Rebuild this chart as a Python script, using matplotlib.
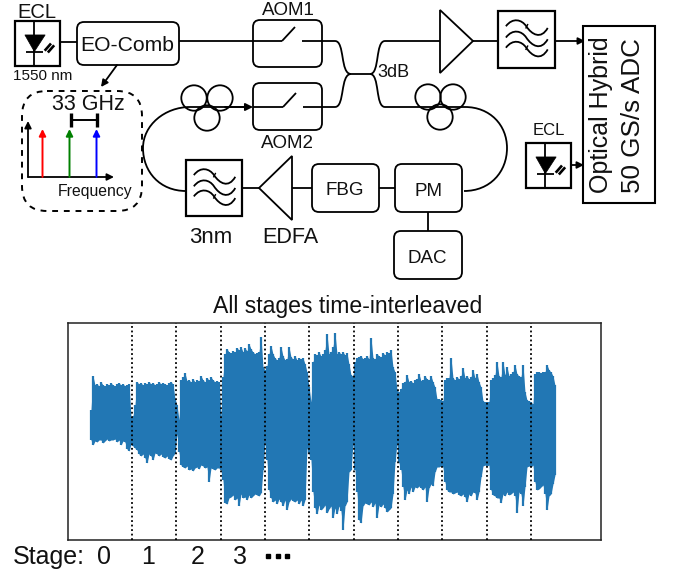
#!/usr/bin/env python3

import numpy as np
import matplotlib
matplotlib.use("Agg")
import matplotlib.pyplot as plt
from matplotlib.patches import FancyBboxPatch, Rectangle, Polygon, Circle
from matplotlib.path import Path
from matplotlib.patches import PathPatch

plt.rcParams["font.family"] = ["Liberation Sans", "DejaVu Sans"]

W, H = 675, 573
LW = 1.3
BLUE = "#2277b4"

# envelope of the time-interleaved trace, one sample row per stage and gap
wave_top = [
    22, 56, 47, 48, 46, 50, 47, 46, 48, 47, 49, 47, 46, 48, 49, 47, 48, 46, 47, 48,
    15, 16, 27,
    50, 48, 49, 47, 49, 48, 50, 48, 49, 47, 48, 50, 48, 49, 48, 47, 49, 50, 48,
    33, 27, 12,
    52, 55, 59, 51, 52, 50, 53, 50, 52, 51, 56, 52, 50, 54, 52, 55, 52, 50, 51, 50,
    15, 55, 78,
    83, 80, 79, 81, 80, 84, 82, 85, 80, 84, 81, 88, 83, 80, 78, 79, 80, 95,
    65, 62, 66, 78,
    86, 78, 74, 72, 74, 85, 76, 72, 73, 85, 75, 73, 76, 72, 74, 73, 74, 68,
    60, 45, 30,
    70, 78, 77, 80, 76, 78, 82, 98, 78, 80, 85, 99, 78, 80, 78, 80, 77, 79, 68,
    57, 56, 70,
    74, 75, 76, 73, 74, 76, 73, 94, 74, 73, 78, 76, 75, 79, 77, 80, 79, 82,
    65, 60, 42, 40, 43, 49,
    50, 57, 50, 51, 49, 52, 53, 58, 51, 52, 56, 53, 52, 56, 50, 45,
    33, 33, 32, 31,
    52, 54, 54, 74, 54, 52, 55, 53, 56, 64, 54, 56, 53, 55, 62, 54, 58, 50, 45,
    31, 30, 30, 30,
    52, 54, 57, 70, 56, 55, 70, 57, 65, 56, 58, 60, 67, 58, 56, 55, 67, 40,
    32, 31, 30, 28,
    58, 60, 60, 59, 60, 60, 67, 62, 60, 56, 47,
]
wave_bot = [
    -8, -13, -9, -10, -8, -8, -11, -9, -7, -9, -8, -8, -7, -10, -8, -13, -9, -10, -17, -19,
    -12, -14, -16,
    -18, -22, -24, -22, -26, -31, -22, -24, -28, -21, -22, -24, -22, -25, -26, -24, -27, -28, -24,
    -21, -2, -20,
    -33, -35, -36, -34, -38, -37, -39, -36, -35, -37, -33, -34, -36, -35, -50, -36, -37, -38, -36, -36,
    -38, -48, -71,
    -72, -66, -65, -63, -68, -66, -74, -62, -66, -65, -68, -63, -66, -64, -62, -63, -64, -61,
    -38, -10, -28, -58,
    -66, -70, -68, -72, -67, -70, -74, -68, -78, -70, -67, -69, -70, -68, -72, -68, -74, -68,
    -16, -22, -28,
    -60, -76, -82, -73, -78, -76, -73, -81, -77, -74, -86, -76, -82, -74, -79, -98, -74, -70, -40,
    -38, -11, -38,
    -60, -88, -91, -74, -71, -72, -73, -70, -75, -71, -86, -73, -75, -72, -76, -80, -78, -76,
    -62, -30, -11, -31, -38, -55,
    -68, -58, -62, -55, -60, -55, -56, -54, -56, -58, -55, -70, -56, -52, -54, -40,
    -35, -35, -34, -35,
    -50, -58, -60, -60, -62, -61, -60, -63, -64, -62, -65, -70, -62, -64, -60, -61, -68, -60, -45,
    -34, -33, -34, -33,
    -58, -63, -64, -66, -66, -71, -62, -64, -60, -63, -62, -60, -64, -81, -60, -62, -74, -55,
    -35, -34, -35, -33,
    -50, -58, -57, -55, -53, -62, -78, -64, -62, -52, -43,
]
stage_bounds = [20.5, 42.7, 64.8, 87, 109, 131.5, 153.5, 175.5, 198, 220]
stage_labels = ["0", "1", "2", "3"]
comb_lines = [("red", 42.5), ("green", 69.5), ("blue", 96.5)]


def box(ax, x0, y0, x1, y1, r=7, **kw):
    ax.add_patch(FancyBboxPatch((x0 + r, y0 + r), x1 - x0 - 2 * r, y1 - y0 - 2 * r,
                                boxstyle=f"round,pad={r},rounding_size={r}",
                                fc=kw.pop("fc", "white"), ec="black",
                                lw=kw.pop("lw", LW), zorder=kw.pop("zorder", 3), **kw))


def line(ax, xs, ys, lw=LW, color="black", zorder=4):
    ax.plot(xs, ys, color=color, lw=lw, solid_capstyle="butt", zorder=zorder)


def curve(ax, start, *segs, lw=LW):
    verts = [start]
    codes = [Path.MOVETO]
    for seg in segs:
        verts += list(seg)
        codes += [Path.CURVE4] * 3
    ax.add_patch(PathPatch(Path(verts, codes), fc="none", ec="black", lw=lw, zorder=2))


def arrow(ax, p0, p1, color="black", lw=LW, ms=10):
    ax.annotate("", xy=p1, xytext=p0, zorder=5,
                arrowprops=dict(arrowstyle="-|>", color=color, lw=lw, mutation_scale=ms,
                                shrinkA=0, shrinkB=0))


def laser(ax, x0, y0, s):
    ax.add_patch(Rectangle((x0, y0), s, s, fc="white", ec="black", lw=LW + 0.3, zorder=3))
    mx = x0 + 0.43 * s
    line(ax, [mx, mx], [y0, y0 + s])
    ax.add_patch(Polygon([(x0 + 0.22 * s, y0 + 0.31 * s), (x0 + 0.67 * s, y0 + 0.31 * s),
                          (mx, y0 + 0.68 * s)], fc="black", ec="black", lw=0.5, zorder=4))
    line(ax, [x0 + 0.24 * s, x0 + 0.62 * s], [y0 + 0.68 * s] * 2)
    line(ax, [x0 + 0.66 * s, x0 + 0.8 * s], [y0 + 0.66 * s, y0 + 0.5 * s], lw=1.9)
    line(ax, [x0 + 0.73 * s, x0 + 0.87 * s], [y0 + 0.7 * s, y0 + 0.54 * s], lw=1.9)


def bandpass(ax, x0, y0, s):
    ax.add_patch(Rectangle((x0, y0), s, s, fc="white", ec="black", lw=LW + 0.3, zorder=3))
    for r in [0.27, 0.47, 0.65]:
        y = y0 + r * s
        verts = [(x0 + 0.14 * s, y),
                 (x0 + 0.26 * s, y - 0.16 * s), (x0 + 0.42 * s, y - 0.12 * s), (x0 + 0.5 * s, y),
                 (x0 + 0.6 * s, y + 0.15 * s), (x0 + 0.76 * s, y + 0.24 * s), (x0 + 0.88 * s, y + 0.03 * s)]
        codes = [Path.MOVETO] + [Path.CURVE4] * 6
        ax.add_patch(PathPatch(Path(verts, codes), fc="none", ec="black", lw=LW, zorder=4))
    for r in [0.27, 0.65]:
        y = y0 + r * s
        line(ax, [x0 + 0.49 * s, x0 + 0.53 * s], [y + 0.04 * s, y - 0.04 * s], lw=1.0)


def coil(ax, centers):
    for cx, cy in centers:
        ax.add_patch(Circle((cx, cy), 12.7, fc="none", ec="black", lw=LW, zorder=4))


def label(ax, x, y, s, size, **kw):
    ax.text(x, y + 1.2, s, fontsize=size, ha=kw.pop("ha", "center"), va=kw.pop("va", "center"),
            color="#111111", zorder=6, **kw)


def draw_setup(ax):
    # source and comb
    label(ax, 37, 11, "ECL", 14.5)
    laser(ax, 15, 21, 45)
    line(ax, [60, 77], [42, 42])
    box(ax, 77, 22, 179, 65)
    label(ax, 127, 44, "EO-Comb", 15.2)
    label(ax, 43, 75, "1550 nm", 11)
    arrow(ax, (117, 65), (101, 87))

    # comb inset
    ax.add_patch(FancyBboxPatch((47, 116), 70, 70, boxstyle="round,pad=25,rounding_size=25",
                                fc="none", ec="black", lw=1.4, ls=(0, (3, 3)), zorder=2))
    label(ax, 88, 103, "33 GHz", 15.5)
    line(ax, [70.5, 70.5], [113, 127], lw=2.4)
    line(ax, [96.5, 96.5], [113, 127], lw=2.4)
    line(ax, [70.5, 96.5], [119.5, 119.5], lw=1.4)
    arrow(ax, (28, 177), (28, 121))
    arrow(ax, (28, 177), (114, 177))
    for color, x in comb_lines:
        arrow(ax, (x, 177), (x, 129), color=color, lw=1.4)
    label(ax, 95, 190, "Frequency", 11.3)

    # AOM switches
    line(ax, [179, 253], [41, 41])
    box(ax, 253, 20, 322, 67)
    line(ax, [253, 282], [41, 41])
    line(ax, [282, 295], [41, 27])
    line(ax, [302, 335], [41, 41])
    label(ax, 288, 9, "AOM1", 13.5)

    box(ax, 253, 83, 322, 130)
    line(ax, [253, 283], [107, 107])
    line(ax, [283, 296], [107, 93])
    line(ax, [303, 335], [107, 107])
    label(ax, 287, 142, "AOM2", 13.5)

    # 3 dB coupler
    curve(ax, (335, 41), ((345, 41), (340, 74), (351, 74)))
    curve(ax, (335, 107), ((345, 107), (340, 74), (351, 74)))
    line(ax, [351, 370], [74, 74])
    curve(ax, (370, 74), ((380, 74), (375, 41), (385, 41)))
    curve(ax, (370, 74), ((380, 74), (375, 107), (385, 107)))
    label(ax, 393, 71, "3dB", 13)

    # upper output
    line(ax, [385, 440], [41, 41])
    ax.add_patch(Polygon([(440, 10), (440, 73), (473, 41)], fc="white", ec="black", lw=LW, zorder=3))
    line(ax, [473, 498], [41, 41])
    bandpass(ax, 498, 11, 56.5)
    arrow(ax, (555, 41), (585, 41))

    # recirculating loop, right side
    line(ax, [385, 465], [107, 107], zorder=2)
    coil(ax, [(428, 97), (453, 97), (440, 117)])
    curve(ax, (465, 107), ((490, 107), (507, 125), (507, 148)),
          ((507, 172), (490, 191), (464, 191)))

    # recirculating loop, left side
    coil(ax, [(194, 98), (220, 98), (207, 118)])
    curve(ax, (190, 107), ((165, 107), (143, 125), (143, 148)),
          ((143, 172), (160, 191), (186, 191)))
    line(ax, [190, 245], [107, 107], zorder=2)
    arrow(ax, (225, 107), (253, 107), ms=11)

    # loop components
    bandpass(ax, 186, 160, 56)
    label(ax, 211, 236, "3nm", 16)
    line(ax, [242, 259], [188, 188])
    ax.add_patch(Polygon([(259, 188), (292, 156), (292, 220)], fc="white", ec="black", lw=LW, zorder=3))
    label(ax, 290, 236, "EDFA", 15.6)
    line(ax, [292, 312], [188, 188])
    box(ax, 312, 164, 379, 212)
    label(ax, 345, 189, "FBG", 13.5)
    line(ax, [379, 395], [188, 188])
    box(ax, 395, 164, 462, 212)
    label(ax, 429, 190, "PM", 13.5)
    line(ax, [428, 428], [212, 231])
    box(ax, 394, 231, 462, 279)
    label(ax, 427, 257, "DAC", 13.5)

    # local oscillator and receiver
    label(ax, 549, 129, "ECL", 12)
    laser(ax, 526, 143, 45)
    arrow(ax, (571, 165), (584, 165))
    ax.add_patch(Rectangle((583, 26), 72, 177, fc="white", ec="black", lw=LW + 0.2, zorder=3))
    label(ax, 601, 192, "Optical Hybrid", 18, rotation=90, va="bottom")
    label(ax, 633, 192, "50 GS/s ADC", 18.7, rotation=90, va="bottom")

    # stage labels
    label(ax, 13, 556, "Stage:", 18, ha="left")
    for s, x in zip(stage_labels, [104, 148, 198, 240]):
        label(ax, x, 556, s, 18)
    ax.plot([268, 278, 287], [556, 556, 556], "s", color="black", ms=3.5, zorder=6)


def main():
    fig = plt.figure(figsize=(W / 100, H / 100), dpi=100)

    ax0 = fig.add_axes([0, 0, 1, 1])
    ax0.set_xlim(0, W)
    ax0.set_ylim(H, 0)
    ax0.axis("off")
    draw_setup(ax0)

    ax = fig.add_axes([68 / W, 1 - 540 / H, 533 / W, 217 / H])
    sample = np.arange(len(wave_top))
    ax.vlines(sample, wave_bot, wave_top, color=BLUE, lw=1.6)
    ax.fill_between(sample, wave_bot, wave_top, color=BLUE, lw=0)
    for x in stage_bounds:
        ax.axvline(x, color="black", lw=1.3, ls=(0, (1, 1.5)), zorder=5)
    ax.set_xlim(-11.5, 255)
    ax.set_ylim(-108, 109)
    ax.set_xticks([])
    ax.set_yticks([])
    for sp in ax.spines.values():
        sp.set_linewidth(1.1)
        sp.set_color("#222222")
    ax.set_title("All stages time-interleaved", fontsize=16.6, pad=7, x=0.525, color="#111111")

    fig.savefig("out.png", dpi=100)


if __name__ == "__main__":
    main()
